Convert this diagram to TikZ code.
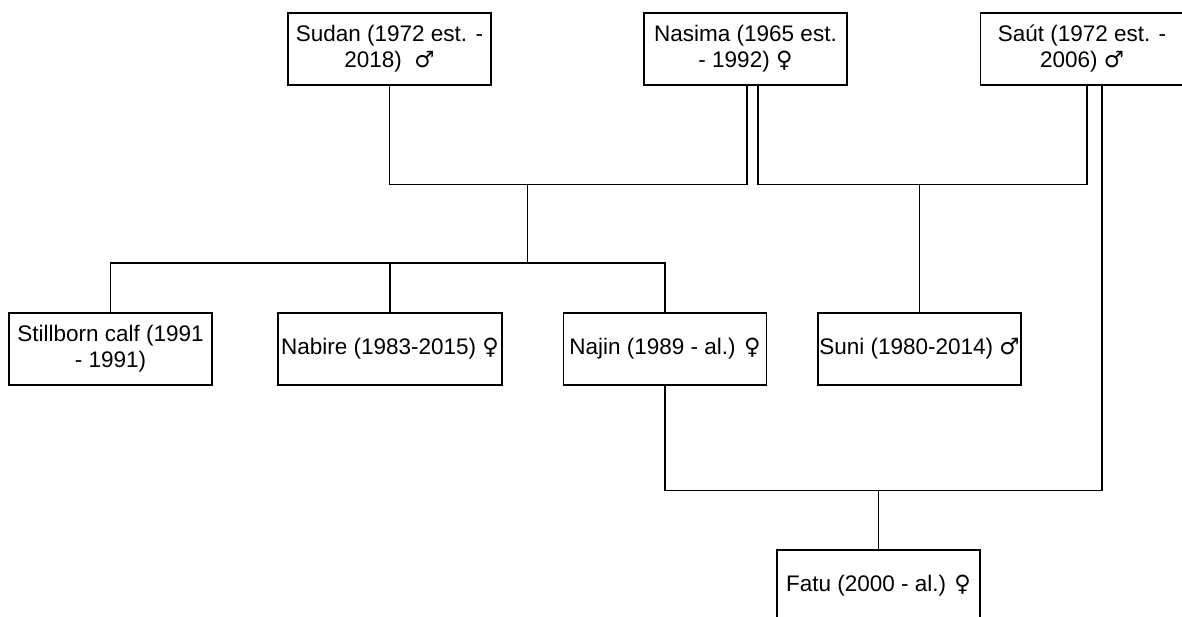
\documentclass[tikz,border=0pt]{standalone}
\usepackage{fontspec}
\setmainfont{Liberation Sans}
\newfontfamily\symfont{DejaVu Sans}
\newcommand\symF{{\symfont ♀}}
\newcommand\symM{{\symfont ♂}}
\usetikzlibrary{calc}
\begin{document}
\begin{tikzpicture}[x=1pt,y=-1pt,
  person/.style={draw, line width=1.6pt, minimum width=203pt, minimum height=72pt,
    align=center, inner sep=0pt, font=\fontsize{22.5}{26}\selectfont},
  link/.style={line width=1.6pt, line join=miter}]
\useasboundingbox (0,0) rectangle (1182,617);
% parents
\node[person] (sudan)  at (389.5,49) {Sudan (1972 est. -\\2018)\ \ \symM};
\node[person] (nasima) at (745.5,49) {Nasima (1965 est.\\- 1992) \symF};
\node[person] (saut)   at (1082,49)  {Saút (1972 est. -\\2006) \symM};
% children
\node[person] (still)  at (110.5,349) {Stillborn calf (1991\\- 1991)};
\node[person, minimum width=224pt] (nabire) at (390,349) {Nabire (1983-2015) \symF};
\node[person] (najin)  at (665,349) {Najin (1989 - al.) \symF};
\node[person] (suni)   at (919.5,349) {Suni (1980-2014) \symM};
\node[person] (fatu)   at (878.5,586) {Fatu (2000 - al.) \symF};
% junction coordinates
\coordinate (j1) at (527.5,184.5);
\coordinate (kids) at (527.5,263);
\coordinate (j3) at (878.5,490.5);
\coordinate (nasL) at ([xshift=1.5pt]nasima.south);
\coordinate (nasR) at ([xshift=12.5pt]nasima.south);
\coordinate (sautL) at ([xshift=5pt]saut.south);
\coordinate (sautR) at ([xshift=20pt]saut.south);
% Sudan + Nasima
\draw[link] (sudan.south) -- (sudan.south |- j1) -- (nasL |- j1) -- (nasL);
\draw[link] (j1) -- (kids);
\draw[link] (still.north) -- (still.north |- kids) -- (najin.north |- kids) -- (najin.north);
\draw[link] (nabire.north) -- (nabire.north |- kids);
% Nasima + Saut
\draw[link] (nasR) -- (nasR |- j1) -- (sautL |- j1) -- (sautL);
\draw[link] (suni.north |- j1) -- (suni.north);
% Najin + Saut
\draw[link] (sautR) -- (sautR |- j3) -- (najin.south |- j3) -- (najin.south);
\draw[link] (j3) -- (fatu.north);
\end{tikzpicture}
\end{document}
